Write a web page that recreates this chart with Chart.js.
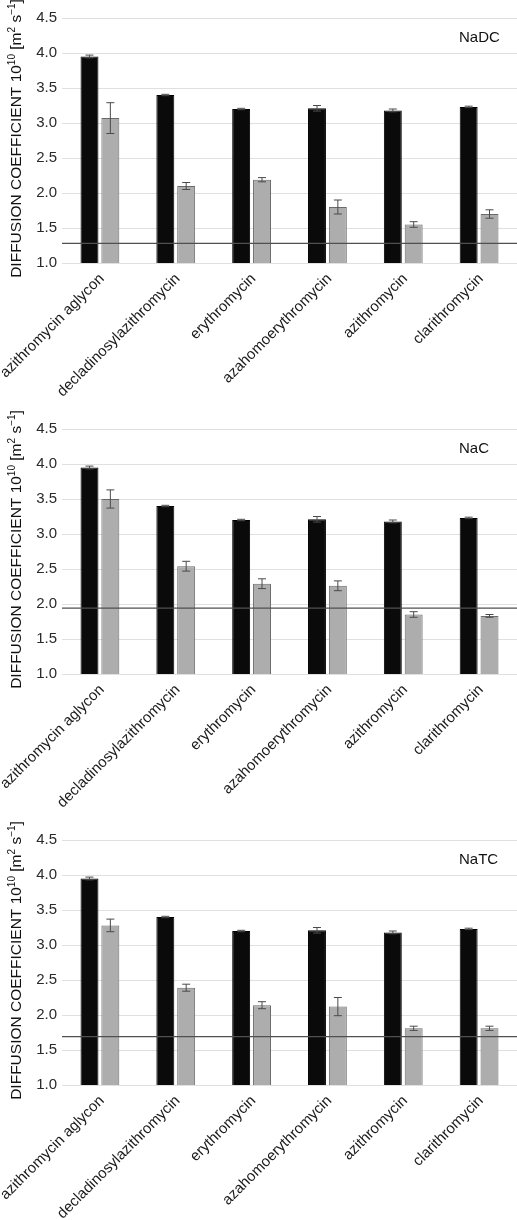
<!DOCTYPE html>
<html>
<head>
<meta charset="utf-8">
<script src="https://cdn.jsdelivr.net/npm/chart.js@4.4.1/dist/chart.umd.min.js"></script>
<style>
  html, body { margin: 0; padding: 0; background: #fff; overflow: hidden; }
  body { width: 517px; height: 1220px; position: relative; }
  .panel { position: absolute; left: 0; width: 517px; height: 411px; }
</style>
</head>
<body>
<div class="panel" style="top:0px"><canvas id="chartNaDC" width="517" height="411"></canvas></div>
<div class="panel" style="top:411px"><canvas id="chartNaC" width="517" height="411"></canvas></div>
<div class="panel" style="top:822px"><canvas id="chartNaTC" width="517" height="411"></canvas></div>
<script>
// categories and values
const categories = ["azithromycin aglycon", "decladinosylazithromycin", "erythromycin",
                    "azahomoerythromycin", "azithromycin", "clarithromycin"];

// black bars (same in every panel)
const waterValues = [3.95, 3.40, 3.20, 3.21, 3.18, 3.23];
const waterErrors = [0.02, 0.01, 0.01, 0.04, 0.02, 0.01];

// grey bars, one list per bile salt
const nadcValues = [3.07, 2.10, 2.19, 1.80, 1.55, 1.70];
const nadcErrors = [0.22, 0.05, 0.03, 0.10, 0.04, 0.06];
const nacValues = [3.50, 2.54, 2.29, 2.26, 1.85, 1.83];
const nacErrors = [0.13, 0.07, 0.07, 0.07, 0.04, 0.02];
const natcValues = [3.28, 2.39, 2.14, 2.12, 1.81, 1.81];
const natcErrors = [0.09, 0.05, 0.05, 0.13, 0.03, 0.03];

// horizontal reference line of each panel
const nadcLine = 1.28;
const nacLine = 1.94;
const natcLine = 1.69;

const yMin = 1.0, yMax = 4.5, yStep = 0.5;

const FONT = "'Liberation Sans', Arial, sans-serif";

// error bars on top of every bar
const errorBars = {
  id: 'errorBars',
  afterDatasetsDraw(chart) {
    const ctx = chart.ctx;
    const y = chart.scales.y;
    chart.data.datasets.forEach((ds, i) => {
      const meta = chart.getDatasetMeta(i);
      meta.data.forEach((bar, j) => {
        const v = ds.data[j], e = ds.errors[j];
        const top = y.getPixelForValue(v + e);
        const bot = y.getPixelForValue(v - e);
        ctx.save();
        ctx.strokeStyle = '#4a4a4a';
        ctx.lineWidth = 1;
        ctx.beginPath();
        ctx.moveTo(bar.x, top); ctx.lineTo(bar.x, bot);
        ctx.moveTo(bar.x - 4, top); ctx.lineTo(bar.x + 4, top);
        ctx.moveTo(bar.x - 4, bot); ctx.lineTo(bar.x + 4, bot);
        ctx.stroke();
        ctx.restore();
      });
    });
  }
};

// horizontal line + panel label
const refLine = {
  id: 'refLine',
  afterDatasetsDraw(chart, args, opts) {
    const ctx = chart.ctx;
    const area = chart.chartArea;
    const yy = chart.scales.y.getPixelForValue(opts.value);
    ctx.save();
    ctx.strokeStyle = '#505050';
    ctx.lineWidth = 1.3;
    ctx.beginPath();
    ctx.moveTo(area.left, yy);
    ctx.lineTo(area.right, yy);
    ctx.stroke();
    ctx.fillStyle = '#111';
    ctx.font = '15px ' + FONT;
    ctx.textAlign = 'left';
    ctx.textBaseline = 'middle';
    ctx.fillText(opts.label, 459, area.top + 20);
    ctx.restore();
  }
};

// rotated y title with superscripts
const yTitle = {
  id: 'yTitle',
  afterDraw(chart) {
    const ctx = chart.ctx;
    const area = chart.chartArea;
    const parts = [
      ['DIFFUSION COEFFICIENT 10', false],
      ['10', true],
      [' [m', false],
      ['2', true],
      [' s', false],
      ['\u22121', true],
      [']', false]
    ];
    const big = '15.5px ' + FONT, small = '10px ' + FONT;
    let total = 0;
    parts.forEach(p => { ctx.font = p[1] ? small : big; total += ctx.measureText(p[0]).width; });
    ctx.save();
    ctx.translate(21, (area.top + area.bottom) / 2 - 2);
    ctx.rotate(-Math.PI / 2);
    ctx.fillStyle = '#111';
    ctx.textBaseline = 'alphabetic';
    ctx.textAlign = 'left';
    let x = -total / 2;
    parts.forEach(p => {
      ctx.font = p[1] ? small : big;
      ctx.fillText(p[0], x, p[1] ? -6 : 0);
      x += ctx.measureText(p[0]).width;
    });
    ctx.restore();
  }
};

function makeChart(id, label, values, errors, lineValue) {
  return new Chart(document.getElementById(id), {
    type: 'bar',
    data: {
      labels: categories,
      datasets: [
        { data: waterValues, errors: waterErrors, backgroundColor: '#0a0a0a',
          borderColor: '#000', borderWidth: 1 },
        { data: values, errors: errors, backgroundColor: '#adadad',
          borderColor: '#6a6a6a', borderWidth: 1 }
      ]
    },
    options: {
      responsive: false,
      animation: false,
      devicePixelRatio: 1,
      categoryPercentage: 0.55,
      barPercentage: 0.86,
      layout: { autoPadding: false, padding: { top: 18, left: 0, right: 0, bottom: 0 } },
      plugins: {
        legend: { display: false },
        tooltip: { enabled: false },
        refLine: { value: lineValue, label: label }
      },
      scales: {
        x: {
          grid: { display: false },
          border: { display: false },
          ticks: {
            color: '#1a1a1a', font: { size: 15, family: FONT },
            minRotation: 45, maxRotation: 45, padding: -1, labelOffset: 2, autoSkip: false
          },
          afterFit(scale) {
            scale.height = 148;
            scale.paddingLeft = 0;
            scale.paddingRight = 0;
          }
        },
        y: {
          min: yMin, max: yMax,
          grid: { color: '#e0e0e0', lineWidth: 1, drawTicks: false },
          border: { display: false },
          ticks: {
            stepSize: yStep, padding: 5, color: '#2a2a2a',
            font: { size: 15, family: FONT },
            callback: v => v.toFixed(1)
          },
          afterFit(scale) {
            scale.width = 62;
            scale.paddingTop = 0;
            scale.paddingBottom = 0;
          }
        }
      }
    },
    plugins: [errorBars, refLine, yTitle]
  });
}

makeChart('chartNaDC', 'NaDC', nadcValues, nadcErrors, nadcLine);
makeChart('chartNaC', 'NaC', nacValues, nacErrors, nacLine);
makeChart('chartNaTC', 'NaTC', natcValues, natcErrors, natcLine);
</script>
</body>
</html>
